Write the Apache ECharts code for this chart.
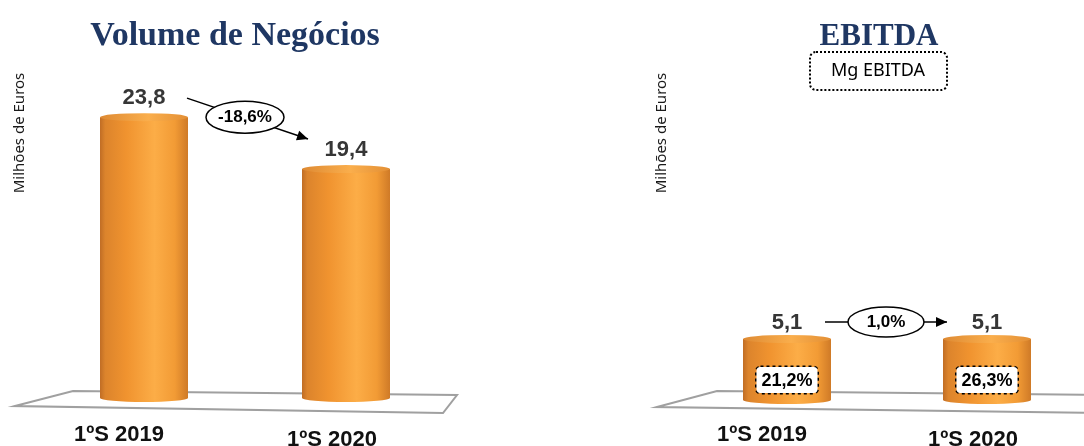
<!DOCTYPE html>
<html>
<head>
<meta charset="utf-8">
<script src="https://cdn.jsdelivr.net/npm/echarts@6/dist/echarts.min.js"></script>
<style>html,body{margin:0;padding:0;background:#fff}#c{width:1084px;height:446px}</style>
</head>
<body>
<div id="c"></div>
<script>
// ---- data ----
const categories = ['1ºS 2019', '1ºS 2020'];
const volumeValues = [23.8, 19.4];
const ebitdaValues = [5.1, 5.1];
const ebitdaMargins = ['21,2%', '26,3%'];
const volumeChange = '-18,6%';
const ebitdaChange = '1,0%';
const titles = ['Volume de Negócios', 'EBITDA'];
const axisTitle = 'Milhões de Euros';
const marginTitle = 'Mg EBITDA';

const fmt = v => String(v.toFixed(1)).replace('.', ',');

const chart = echarts.init(document.getElementById('c'), null, {renderer: 'canvas'});

const bodyGrad = new echarts.graphic.LinearGradient(0, 0, 1, 0, [
  {offset: 0, color: '#C06D25'},
  {offset: 0.06, color: '#DC842C'},
  {offset: 0.3, color: '#F0932F'},
  {offset: 0.62, color: '#FCAD47'},
  {offset: 0.85, color: '#F29B35'},
  {offset: 1, color: '#CF7A27'}
]);
const capGrad = new echarts.graphic.LinearGradient(0, 0, 1, 0, [
  {offset: 0, color: '#DE8A33'},
  {offset: 0.55, color: '#FAAE4C'},
  {offset: 1, color: '#E38F35'}
]);

function seriesFor(idx, values, valueLabelDist, margins) {
  const s = [
    {
      type: 'pictorialBar', xAxisIndex: idx, yAxisIndex: idx, data: values,
      symbol: 'circle', symbolSize: [88, 8], symbolPosition: 'start', symbolOffset: [0, '50%'],
      itemStyle: {color: bodyGrad}, z: 1, silent: true
    },
    {
      type: 'bar', xAxisIndex: idx, yAxisIndex: idx, data: values, barWidth: 88,
      itemStyle: {color: bodyGrad}, z: 2,
      label: {
        show: true, position: 'top', distance: valueLabelDist,
        formatter: p => fmt(p.value),
        fontFamily: 'Liberation Sans, Arial, sans-serif', fontWeight: 'bold', fontSize: 22, color: '#363636'
      }
    },
    {
      type: 'pictorialBar', xAxisIndex: idx, yAxisIndex: idx, data: values,
      symbol: 'circle', symbolSize: [88, 8], symbolPosition: 'end', symbolOffset: [0, '-50%'],
      itemStyle: {color: capGrad}, z: 3, silent: true
    }
  ];
  if (margins) {
    s.push({
      type: 'bar', xAxisIndex: idx, yAxisIndex: idx, data: values, barWidth: 88, barGap: '-100%',
      itemStyle: {color: 'rgba(0,0,0,0)'}, z: 4,
      label: {
        show: true, position: 'insideBottom', distance: 7,
        formatter: p => margins[p.dataIndex],
        fontFamily: 'Liberation Sans, Arial, sans-serif', fontWeight: 'bold', fontSize: 18, color: '#000',
        backgroundColor: '#fff', borderColor: '#000', borderType: 'dotted', borderWidth: 1.5,
        borderRadius: 4, padding: [5, 5, 3, 5]
      }
    });
  }
  return s;
}

function xLabel(margin) {
  const base = {fontFamily: 'Liberation Sans, Arial, sans-serif', fontWeight: 'bold', fontSize: 22, color: '#111'};
  return Object.assign({}, base, {
    margin: margin,
    formatter: (v, i) => i === 0 ? '{a|' + v + '}' : '{b|' + v + '}',
    rich: {
      a: Object.assign({}, base, {padding: [0, 50, 0, 0]}),
      b: Object.assign({}, base, {padding: [5, 28, 0, 0]})
    }
  });
}

const option = {
  backgroundColor: '#fff',
  animation: false,
  title: [
    {text: titles[0], left: 230, top: 14, textAlign: 'center',
     textStyle: {fontFamily: 'Liberation Serif, serif', fontWeight: 'bold', fontSize: 34, color: '#1F3763'}},
    {text: titles[1], left: 874, top: 16, textAlign: 'center',
     textStyle: {fontFamily: 'Liberation Serif, serif', fontWeight: 'bold', fontSize: 31, color: '#1F3763'}}
  ],
  grid: [
    {left: 43, width: 404, top: 44, bottom: 48, containLabel: false, outerBoundsMode: 'none'},
    {left: 687, width: 400, top: 41, bottom: 46, containLabel: false, outerBoundsMode: 'none'}
  ],
  xAxis: [0, 1].map(i => ({
    type: 'category', gridIndex: i, data: categories,
    axisLine: {show: false}, axisTick: {show: false}, splitLine: {show: false},
    axisLabel: xLabel(i === 0 ? 26 : 24)
  })),
  yAxis: [0, 1].map(i => ({
    type: 'value', gridIndex: i, min: 0, max: 30,
    axisLine: {show: false}, axisTick: {show: false}, axisLabel: {show: false}, splitLine: {show: false}
  })),
  series: [].concat(seriesFor(0, volumeValues, 8), seriesFor(1, ebitdaValues, 5, ebitdaMargins))
};
chart.setOption(option);

function arrowHead(tip, from, len, half) {
  const dx = tip[0] - from[0], dy = tip[1] - from[1];
  const L = Math.hypot(dx, dy), ux = dx / L, uy = dy / L;
  const bx = tip[0] - ux * len, by = tip[1] - uy * len;
  return [tip, [bx - uy * half, by + ux * half], [bx + uy * half, by - ux * half]];
}
function changeAnnotation(start, center, tip, rx, ry, text) {
  return [
    {type: 'line', z: 10, shape: {x1: start[0], y1: start[1], x2: tip[0], y2: tip[1]},
     style: {stroke: '#000', lineWidth: 1.5}},
    {type: 'polygon', z: 10, shape: {points: arrowHead(tip, start, 11, 5)}, style: {fill: '#000'}},
    {type: 'ellipse', z: 11, shape: {cx: center[0], cy: center[1], rx: rx, ry: ry},
     style: {fill: '#fff', stroke: '#000', lineWidth: 1.5}},
    {type: 'text', z: 12, x: center[0], y: center[1],
     style: {text: text, align: 'center', verticalAlign: 'middle', textAlign: 'center', textVerticalAlign: 'middle',
             font: 'bold 17px "Liberation Sans", Arial, sans-serif', fill: '#000'}}
  ];
}

const a1 = chart.convertToPixel({gridIndex: 0}, [categories[0], volumeValues[0]]);
const a2 = chart.convertToPixel({gridIndex: 0}, [categories[1], volumeValues[1]]);
const b1 = chart.convertToPixel({gridIndex: 1}, [categories[0], ebitdaValues[0]]);
const b2 = chart.convertToPixel({gridIndex: 1}, [categories[1], ebitdaValues[1]]);
const zeroL = chart.convertToPixel({gridIndex: 0}, [categories[0], 0]);
const zeroR = chart.convertToPixel({gridIndex: 1}, [categories[0], 0]);

const floorStyle = {fill: '#fff', stroke: '#A0A0A0', lineWidth: 2};
const graphics = [
  {type: 'polygon', z: -1, shape: {points: [[15, zeroL[1] + 8], [73, zeroL[1] - 7], [457, zeroL[1] - 3], [443, zeroL[1] + 15]]}, style: floorStyle},
  {type: 'polygon', z: -1, shape: {points: [[657, zeroR[1] + 7], [717, zeroR[1] - 9], [1100, zeroR[1] - 5], [1100, zeroR[1] + 13]]}, style: floorStyle},
  {type: 'text', z: 5, x: 20, y: 133, rotation: Math.PI / 2,
   style: {text: axisTitle, align: 'center', verticalAlign: 'middle', textAlign: 'center', textVerticalAlign: 'middle',
           font: '15px "Noto Sans", sans-serif', fill: '#1a1a1a'}},
  {type: 'text', z: 5, x: 662, y: 133, rotation: Math.PI / 2,
   style: {text: axisTitle, align: 'center', verticalAlign: 'middle', textAlign: 'center', textVerticalAlign: 'middle',
           font: '15px "Noto Sans", sans-serif', fill: '#1a1a1a'}},
  {type: 'rect', z: 5, shape: {x: 810, y: 52, width: 137, height: 38, r: 6},
   style: {fill: '#fff', stroke: '#000', lineWidth: 2, lineDash: [2, 2]}},
  {type: 'text', z: 6, x: 878, y: 71,
   style: {text: marginTitle, align: 'center', verticalAlign: 'middle', textAlign: 'center', textVerticalAlign: 'middle',
           font: '18px "Noto Sans", sans-serif', fill: '#000'}}
].concat(
  changeAnnotation([a1[0] + 43, a1[1] - 19], [(a1[0] + a2[0]) / 2, a1[1]], [a2[0] - 38, a2[1] - 30], 39, 16, volumeChange),
  changeAnnotation([b1[0] + 38, b1[1] - 17], [(b1[0] + b2[0]) / 2 - 1, b1[1] - 17], [b2[0] - 40, b2[1] - 17], 38, 15, ebitdaChange)
);
chart.setOption({graphic: graphics});
</script>
</body>
</html>
